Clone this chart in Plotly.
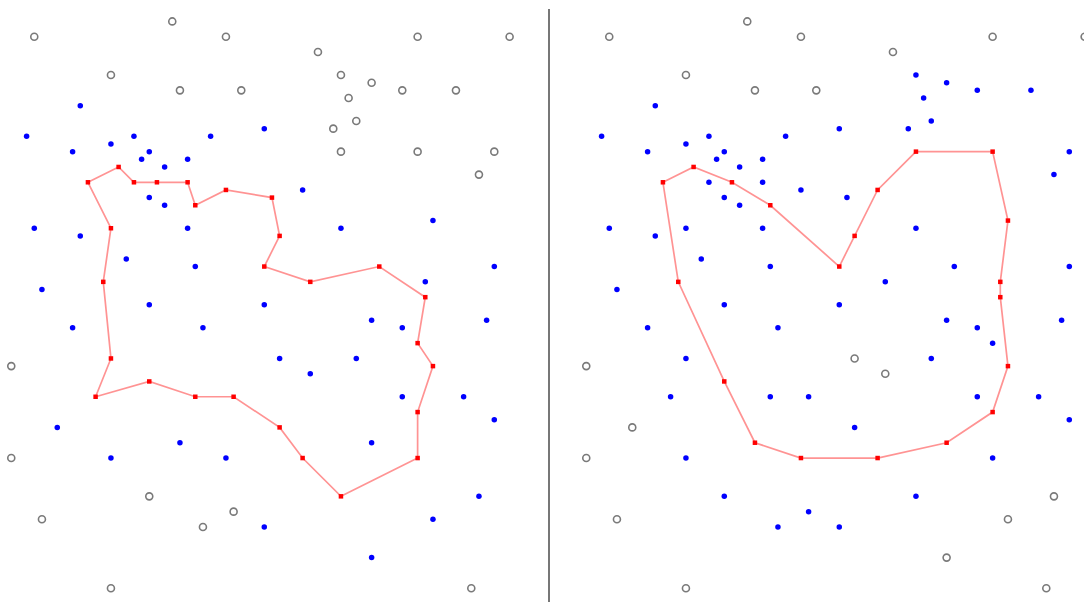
import plotly.graph_objects as go

# Sample points on an integer grid (column, row); row 0 is at the top.
point_x = [4, 22, 29, 14, 23, 31, 41, 54, 66, 44, 48, 45, 52, 59, 46, 43, 44, 54, 64, 62,
           10, 3, 17, 27, 34, 9, 14, 19, 18, 24, 21, 19, 21, 11, 15, 17, 20, 24, 25, 29,
           35, 39, 4, 10, 24, 16, 25, 5, 19, 34, 9, 26, 1, 14, 13, 14, 12, 19, 25, 30,
           34, 36, 40, 49, 55, 54, 56, 44, 56, 64, 55, 48, 52, 63, 36, 46, 40, 52, 60, 7,
           23, 14, 29, 34, 1, 14, 19, 5, 26, 30, 36, 39, 44, 54, 54, 64, 48, 62, 56, 48, 61]
point_y = [4, 2, 4, 9, 11, 11, 6, 4, 4, 9, 10, 12, 11, 11, 15, 16, 19, 19, 19, 22,
           13, 17, 17, 17, 16, 19, 18, 19, 20, 20, 21, 25, 26, 23, 21, 23, 23, 23, 26, 24,
           25, 24, 29, 30, 29, 33, 34, 37, 39, 39, 42, 42, 47, 29, 36, 46, 51, 49, 51, 51,
           34, 30, 36, 34, 38, 44, 47, 29, 28, 34, 36, 41, 42, 41, 46, 46, 48, 51, 51, 55,
           57, 59, 59, 68, 59, 76, 64, 67, 68, 66, 55, 59, 64, 59, 53, 54, 57, 64, 67, 72, 76]

# Point classes per panel: I = inside, B = boundary vertex, O = outside
class_left = ("OOOOOOOOOOOOOOOOOOOO"
              "IIIIIIIIIIIIIBBBBBBB"
              "BIIIIIIIIIIIOBBBBBBB"
              "BBBBBBBIIIIIIIIIIIII"
              "IIIIOOOOOOBBBBBIIIIIO")
class_right = ("OOOOOOOOOIIIIIIIBBII"
               "IIIIIIIIIIIIIBBIBIBI"
               "IBIIIIIIIIIIOIBIIBII"
               "BBIIBIBIBIBIIIOIOIIO"
               "BIBIOOIOIIIBIIBIBOOOO")

# Boundary polygons, as vertex lists in drawing order
left_hull_x = [11, 15, 17, 20, 24, 25, 29, 35, 36, 34, 40, 49, 55, 54, 56, 54,
               54, 44, 39, 36, 30, 25, 19, 12, 14, 13, 14, 11]
left_hull_y = [23, 21, 23, 23, 23, 26, 24, 25, 30, 34, 36, 34, 38, 44, 47, 53,
               59, 64, 59, 55, 51, 51, 49, 51, 46, 36, 29, 23]
right_hull_x = [11, 15, 20, 25, 34, 36, 39, 44, 54, 56, 55, 55, 56, 54, 48, 39,
                29, 23, 19, 13, 11]
right_hull_y = [23, 21, 23, 26, 34, 30, 24, 19, 19, 28, 36, 38, 47, 53, 57, 59,
                59, 57, 49, 36, 23]

assert len(point_x) == len(point_y) == len(class_left) == len(class_right)

W, H = 1084, 602
CELL_X, CELL_Y = 7.667, 7.66
ORIGIN_Y = 6.1


def panel_traces(classes, hull_x, hull_y, xref):
    sel = {c: [k for k, v in enumerate(classes) if v == c] for c in "IOB"}
    return [
        go.Scatter(x=[point_x[k] for k in sel["O"]], y=[point_y[k] for k in sel["O"]],
                   mode="markers", xaxis=xref, yaxis="y",
                   marker=dict(symbol="circle-open", size=7, color="#7a7a7a",
                               line=dict(width=1.6, color="#7a7a7a"))),
        go.Scatter(x=[point_x[k] for k in sel["I"]], y=[point_y[k] for k in sel["I"]],
                   mode="markers", xaxis=xref, yaxis="y",
                   marker=dict(symbol="circle", size=5.5, color="#0000ff")),
        go.Scatter(x=hull_x, y=hull_y, mode="lines", xaxis=xref, yaxis="y",
                   line=dict(color="rgba(255,40,40,0.5)", width=1.7)),
        go.Scatter(x=[point_x[k] for k in sel["B"]], y=[point_y[k] for k in sel["B"]],
                   mode="markers", xaxis=xref, yaxis="y",
                   marker=dict(symbol="square", size=4.5, color="#ff0000")),
    ]


fig = go.Figure()
for tr in panel_traces(class_left, left_hull_x, left_hull_y, "x"):
    fig.add_trace(tr)
for tr in panel_traces(class_right, right_hull_x, right_hull_y, "x2"):
    fig.add_trace(tr)

left_px = (0, 548)
right_px = (550, W)
left_x0 = 3.6
right_x0 = 578.6

hidden = dict(visible=False, showgrid=False, zeroline=False, fixedrange=True)
fig.update_layout(
    width=W, height=H,
    margin=dict(l=0, r=0, t=0, b=0),
    paper_bgcolor="white", plot_bgcolor="white",
    showlegend=False, hovermode=False,
    xaxis=dict(domain=[left_px[0] / W, left_px[1] / W],
               range=[(left_px[0] - left_x0) / CELL_X, (left_px[1] - left_x0) / CELL_X],
               **hidden),
    xaxis2=dict(domain=[right_px[0] / W, right_px[1] / W],
                range=[(right_px[0] - right_x0) / CELL_X, (right_px[1] - right_x0) / CELL_X],
                **hidden),
    yaxis=dict(domain=[0, 1],
               range=[(H - ORIGIN_Y) / CELL_Y, -ORIGIN_Y / CELL_Y],
               **hidden),
    shapes=[dict(type="line", xref="paper", yref="paper",
                 x0=549 / W, x1=549 / W, y0=0, y1=1 - 9 / H,
                 line=dict(color="#555555", width=1.6))],
)

fig.write_html("out.html", config={"displayModeBar": False})
